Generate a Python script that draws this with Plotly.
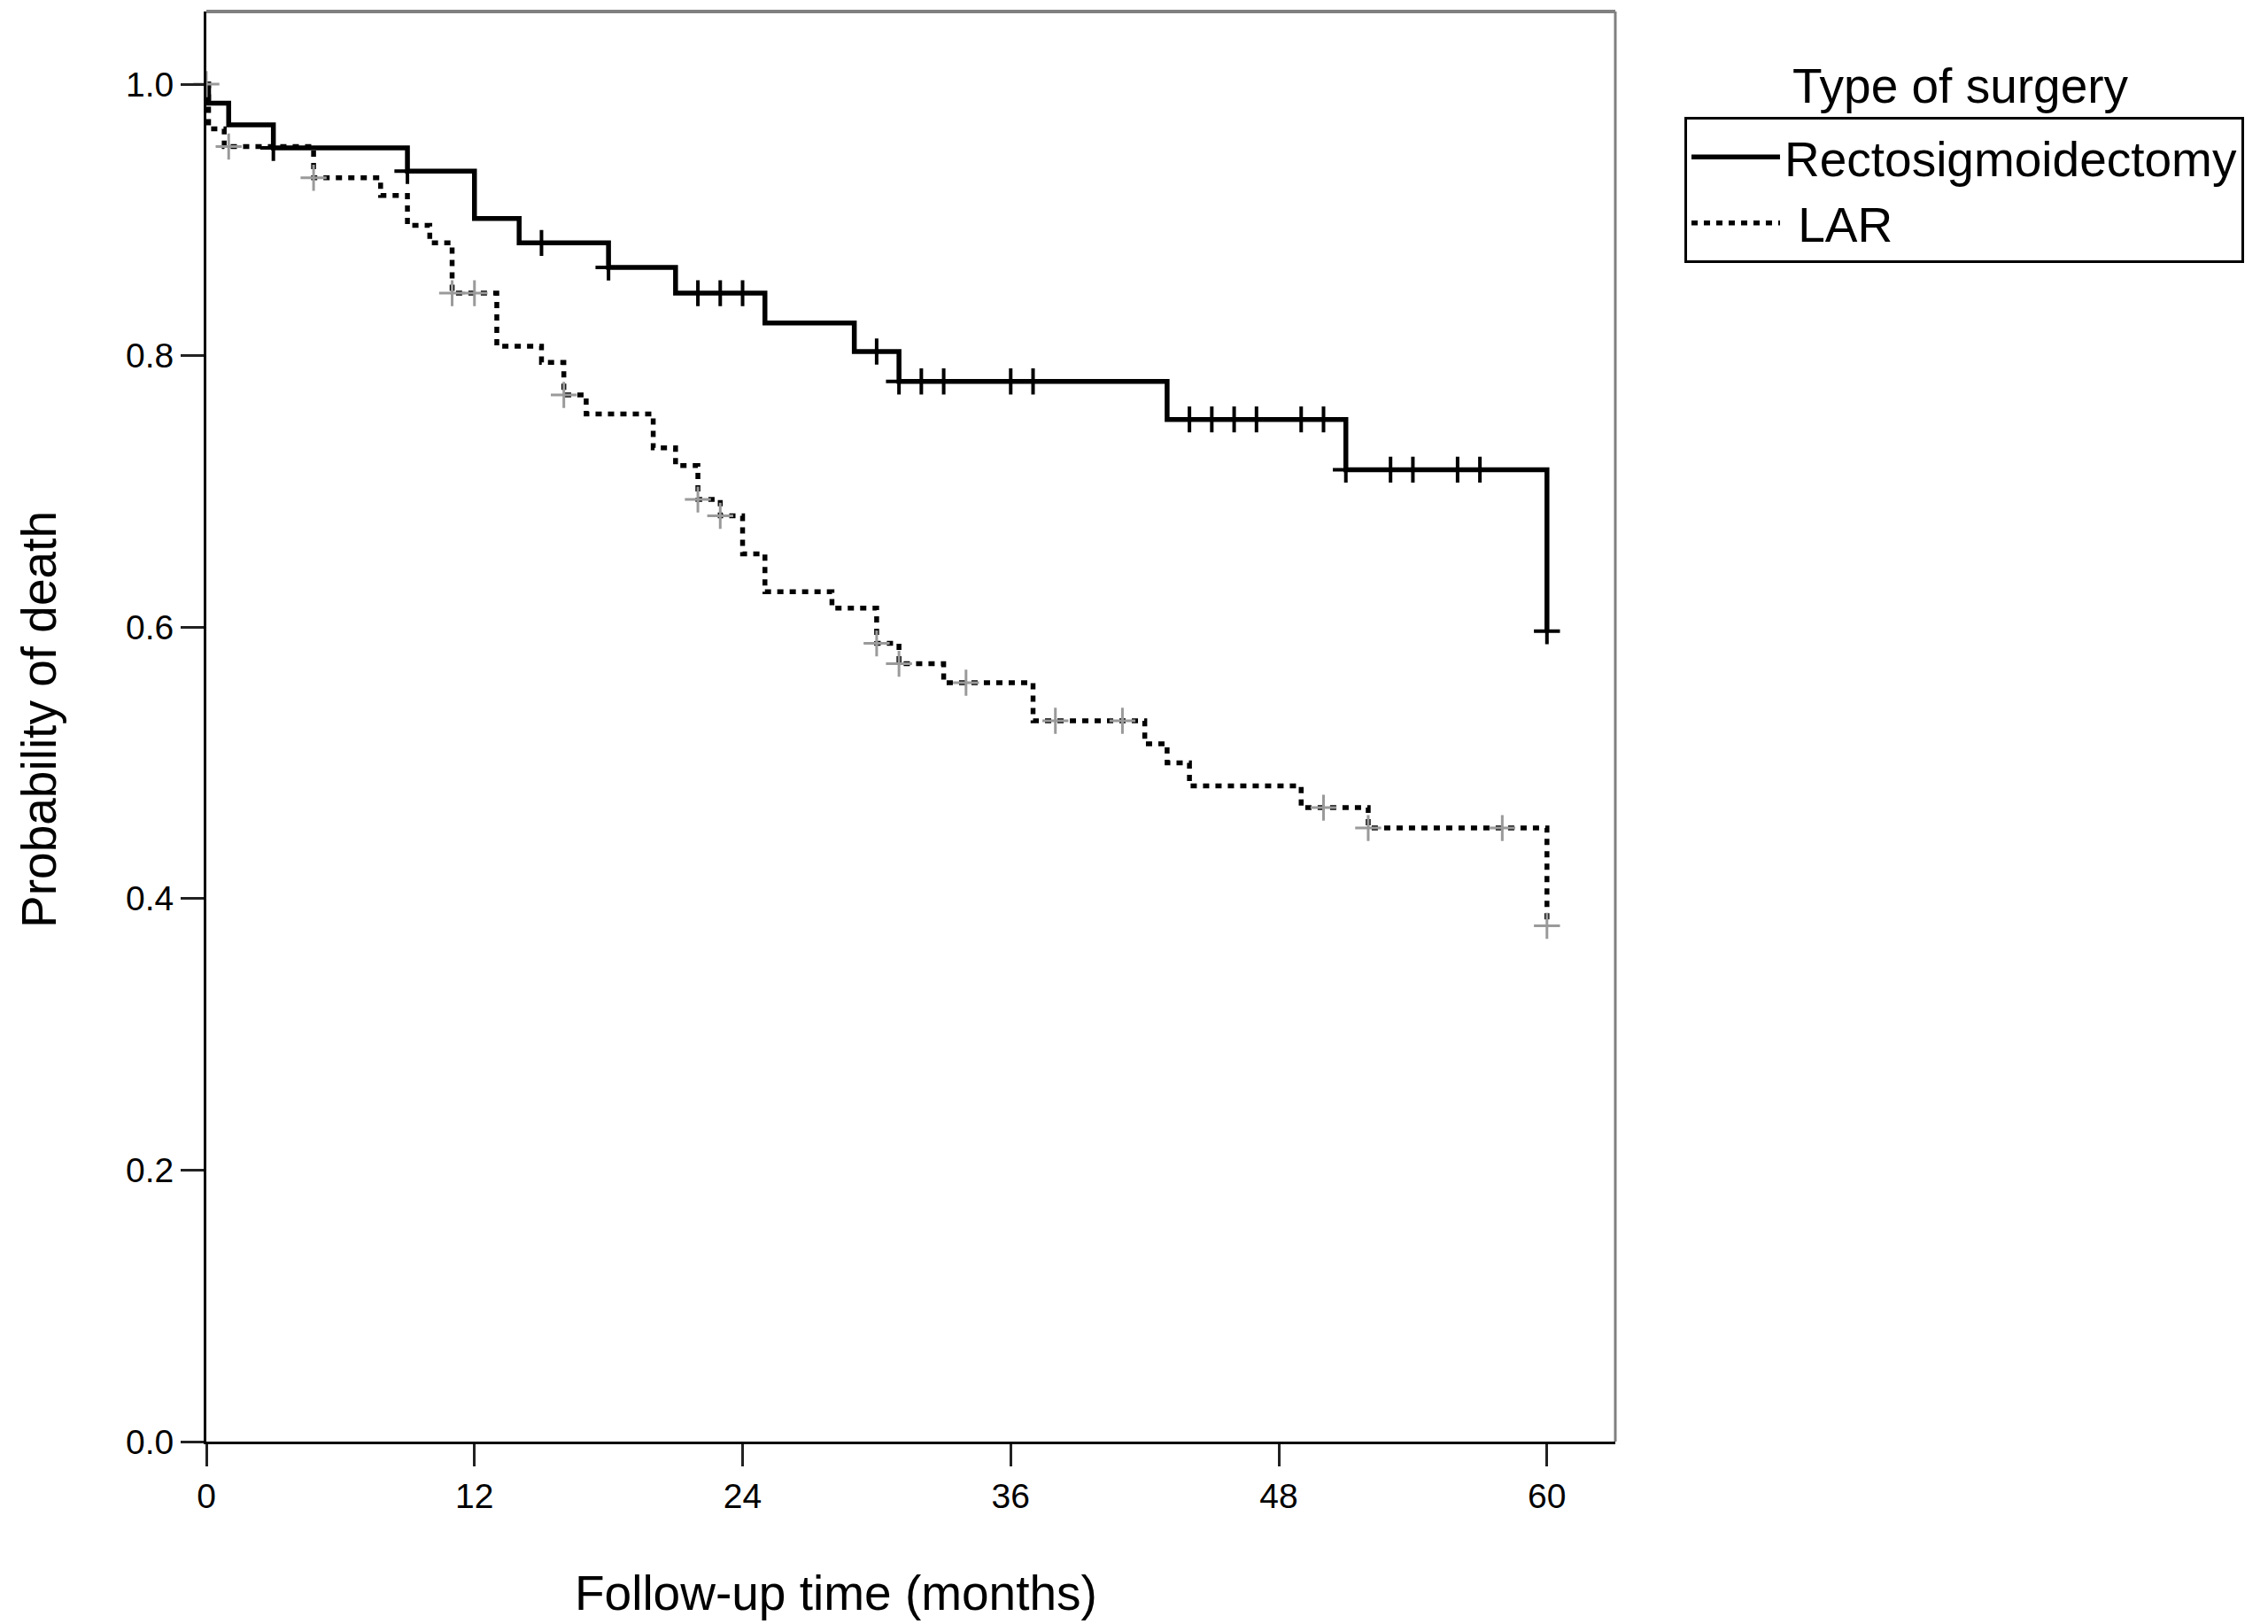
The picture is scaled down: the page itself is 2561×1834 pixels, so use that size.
import plotly.graph_objects as go

# ---- data ----
rs_time = [0, 0.1, 1, 3, 9, 12, 14, 18, 21, 25, 29, 31, 43, 51, 60]
rs_surv = [1.0, 0.986, 0.970, 0.953, 0.936, 0.901, 0.883, 0.865, 0.846, 0.824,
           0.803, 0.781, 0.753, 0.716, 0.597]
rs_censor = [3, 9, 15, 18, 22, 23, 24, 30, 31, 32, 33, 36, 37, 44, 45, 46, 47,
             49, 50, 51, 53, 54, 56, 57, 60]

lar_time = [0, 0.1, 0.8, 4.8, 7.8, 9, 10, 11, 13, 15, 16, 17, 20, 21, 22, 23,
            24, 25, 28, 30, 31, 33, 37, 42, 43, 44, 49, 52, 60]
lar_surv = [1.0, 0.967, 0.954, 0.931, 0.918, 0.896, 0.883, 0.846, 0.807, 0.795,
            0.771, 0.757, 0.732, 0.719, 0.694, 0.682, 0.654, 0.626, 0.614,
            0.588, 0.573, 0.559, 0.531, 0.514, 0.500, 0.483, 0.467, 0.452, 0.380]
lar_censor = [0, 1, 4.8, 11, 12, 16, 22, 23, 30, 31, 34, 38, 41, 50, 52, 58, 60]

x_ticks = [0, 12, 24, 36, 48, 60]
y_ticks = [0.0, 0.2, 0.4, 0.6, 0.8, 1.0]
series_names = ["Rectosigmoidectomy", " LAR"]


def surv_at(times, surv, t):
    val = surv[0]
    for ti, si in zip(times, surv):
        if ti <= t:
            val = si
    return val


FONT = "Liberation Sans, Arial, sans-serif"

fig = go.Figure()

fig.add_trace(go.Scatter(
    x=rs_time, y=rs_surv, mode="lines", line_shape="hv",
    line=dict(color="black", width=5.5), name=series_names[0],
    legendgroup="rs"))
fig.add_trace(go.Scatter(
    x=lar_time, y=lar_surv, mode="lines", line_shape="hv",
    line=dict(color="black", width=5.5, dash="7px,7px"), name=series_names[1],
    legendgroup="lar"))

fig.add_trace(go.Scatter(
    x=rs_censor, y=[surv_at(rs_time, rs_surv, t) for t in rs_censor],
    mode="markers", showlegend=False, legendgroup="rs", cliponaxis=False,
    marker=dict(symbol="cross-thin", size=21,
                line=dict(color="black", width=4))))
fig.add_trace(go.Scatter(
    x=lar_censor, y=[surv_at(lar_time, lar_surv, t) for t in lar_censor],
    mode="markers", showlegend=False, legendgroup="lar", cliponaxis=False,
    marker=dict(symbol="cross-thin", size=21,
                line=dict(color="#9a9a9a", width=3))))

fig.update_layout(
    width=2553, height=1826,
    margin=dict(l=225, r=737, t=5, b=206),
    paper_bgcolor="white", plot_bgcolor="white",
    font=dict(family=FONT, color="black", size=39),
    showlegend=True,
    legend=dict(x=1.049, y=0.9263, xanchor="left", yanchor="top",
                bordercolor="black", borderwidth=3, bgcolor="white",
                font=dict(size=55, family=FONT, color="black"),
                itemwidth=100, tracegroupgap=0),
    xaxis=dict(range=[0, 63.06], tickvals=x_ticks, ticktext=[str(v) for v in x_ticks],
               showgrid=False, zeroline=False, showline=True, linecolor="black",
               linewidth=3, ticks="outside", ticklen=25, tickwidth=3,
               tickcolor="#222", tickfont=dict(size=39)),
    yaxis=dict(range=[0, 1.0535], tickvals=y_ticks,
               ticktext=[f"{v:.1f}" for v in y_ticks],
               showgrid=False, zeroline=False, showline=True, linecolor="black",
               linewidth=3, ticks="outside", ticklen=26, tickwidth=3,
               tickcolor="#222", tickfont=dict(size=39)),
    shapes=[
        dict(type="line", xref="x domain", yref="y domain", x0=0, x1=1, y0=1, y1=1,
             line=dict(color="#808080", width=4)),
        dict(type="line", xref="x domain", yref="y domain", x0=1, x1=1, y0=0, y1=1,
             line=dict(color="#808080", width=3)),
    ],
    annotations=[
        dict(text="Follow-up time (months)", xref="paper", yref="paper",
             x=0.447, y=-0.106, xanchor="center", yanchor="middle",
             showarrow=False, font=dict(size=55, family=FONT)),
        dict(text="Probability of death", xref="paper", yref="paper",
             x=-0.1185, y=0.505, xanchor="center", yanchor="middle", textangle=-90,
             showarrow=False, font=dict(size=55, family=FONT)),
        dict(text="Type of surgery", xref="paper", yref="paper",
             x=1.1245, y=0.948, xanchor="left", yanchor="middle",
             showarrow=False, font=dict(size=55, family=FONT)),
    ],
)

fig.write_html("out.html")
